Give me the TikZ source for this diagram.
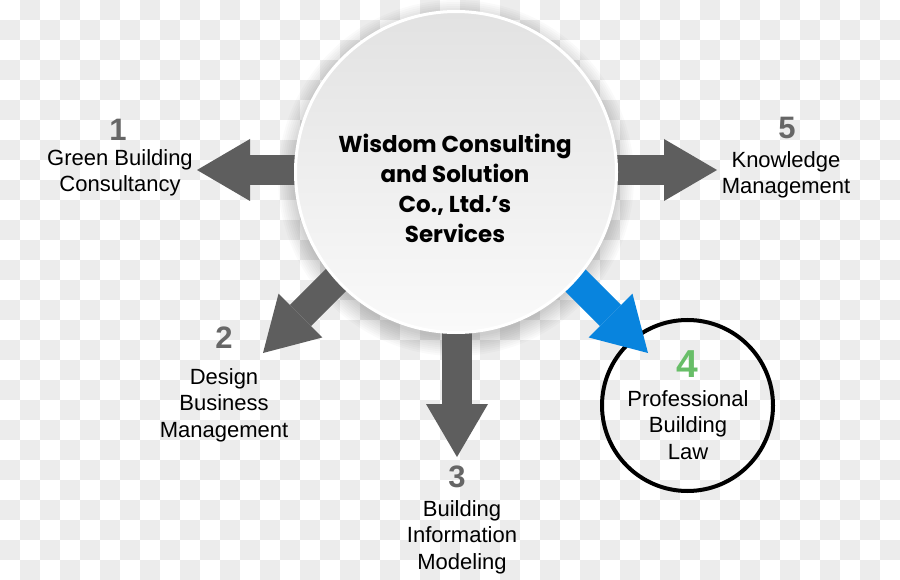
\documentclass[tikz,border=0pt]{standalone}
\usepackage{fontspec}
\setmainfont{Liberation Sans}
\newfontfamily\hubfont{Poppins}
\usepackage{xcolor}
\usetikzlibrary{arrows.meta}

\definecolor{arrowgrey}{RGB}{94,94,94}
\definecolor{numgrey}{RGB}{102,102,102}
\definecolor{lawblue}{RGB}{8,132,222}
\definecolor{lawgreen}{RGB}{104,190,104}
\definecolor{checkgrey}{RGB}{236,236,236}
\definecolor{hubtop}{RGB}{226,226,226}
\definecolor{hubbottom}{RGB}{250,250,250}

\tikzset{
    bigarrow/.style={line width=30pt, draw=arrowgrey,
        -{Triangle[length=53pt,width=62pt,line width=0pt]}},
    bluearrow/.style={bigarrow, draw=lawblue},
    hub/.style={circle, inner sep=0pt, minimum size=321pt, draw=white,
        line width=3pt, top color=hubtop, bottom color=hubbottom},
    hubtext/.style={align=center, inner sep=0pt,
        font=\hubfont\bfseries\fontsize{23}{30}\selectfont},
    ring/.style={circle, inner sep=0pt, minimum size=171pt, draw=black, line width=4pt},
    service/.style={align=center, inner sep=0pt, font=\fontsize{22}{26.5}\selectfont},
    num/.style={inner sep=0pt, text=numgrey, font=\fontsize{31}{31}\bfseries\selectfont},
}

\begin{document}
\begin{tikzpicture}[x=1pt,y=-1pt]
    \useasboundingbox (0,0) rectangle (900,580);
    \fill[white] (0,0) rectangle (900,580);
    \foreach \i in {0,...,44}{
        \foreach \j in {0,...,28}{
            \pgfmathparse{int(mod(\i+\j,2))}
            \ifnum\pgfmathresult=1
                \fill[checkgrey] (20*\i,20*\j) rectangle ++(20,20);
            \fi
        }
    }

    \foreach \k in {1,...,10}
        \fill[black,opacity=0.02] (456,178) circle[radius=158+2*\k];

    \node[ring] (law) at (687.5,405.5) {};

    \coordinate (s1) at (330,170);
    \coordinate (t1) at (197,170);
    \coordinate (s2) at (383,233);
    \coordinate (t2) at (263,353);
    \coordinate (s3) at (457,300);
    \coordinate (t3) at (457,457);
    \coordinate (s4) at (528,233);
    \coordinate (t4) at (648,353);
    \coordinate (s5) at (580,170);
    \coordinate (t5) at (717,170);

    \draw[bigarrow] (s1) -- (t1);
    \draw[bigarrow] (s2) -- (t2);
    \draw[bigarrow] (s3) -- (t3);
    \draw[bluearrow] (s4) -- (t4);
    \draw[bigarrow] (s5) -- (t5);

    \node[hub] (hub) at (456,172) {};
    \node[hubtext] (title) at (455,188) {Wisdom Consulting\\and Solution\\Co., Ltd.’s\\Services};

    \node[num] (n1) at (118,130) {1};
    \node[service] (green) at (120,173) {Green Building\\Consultancy};

    \node[num] (n2) at (224,338) {2};
    \node[service] (design) at (224,405) {Design\\Business\\Management};

    \node[num] (n3) at (457,477) {3};
    \node[service] (bim) at (462,537) {Building\\Information\\Modeling};

    \node[num, text=lawgreen, font=\fontsize{39}{39}\bfseries\selectfont] (n4) at (687,364) {4};
    \node[service] (lawtext) at (688,425) {Professional\\Building\\Law};

    \node[num] (n5) at (787,128) {5};
    \node[service] (know) at (786,175) {Knowledge\\Management};
\end{tikzpicture}
\end{document}
